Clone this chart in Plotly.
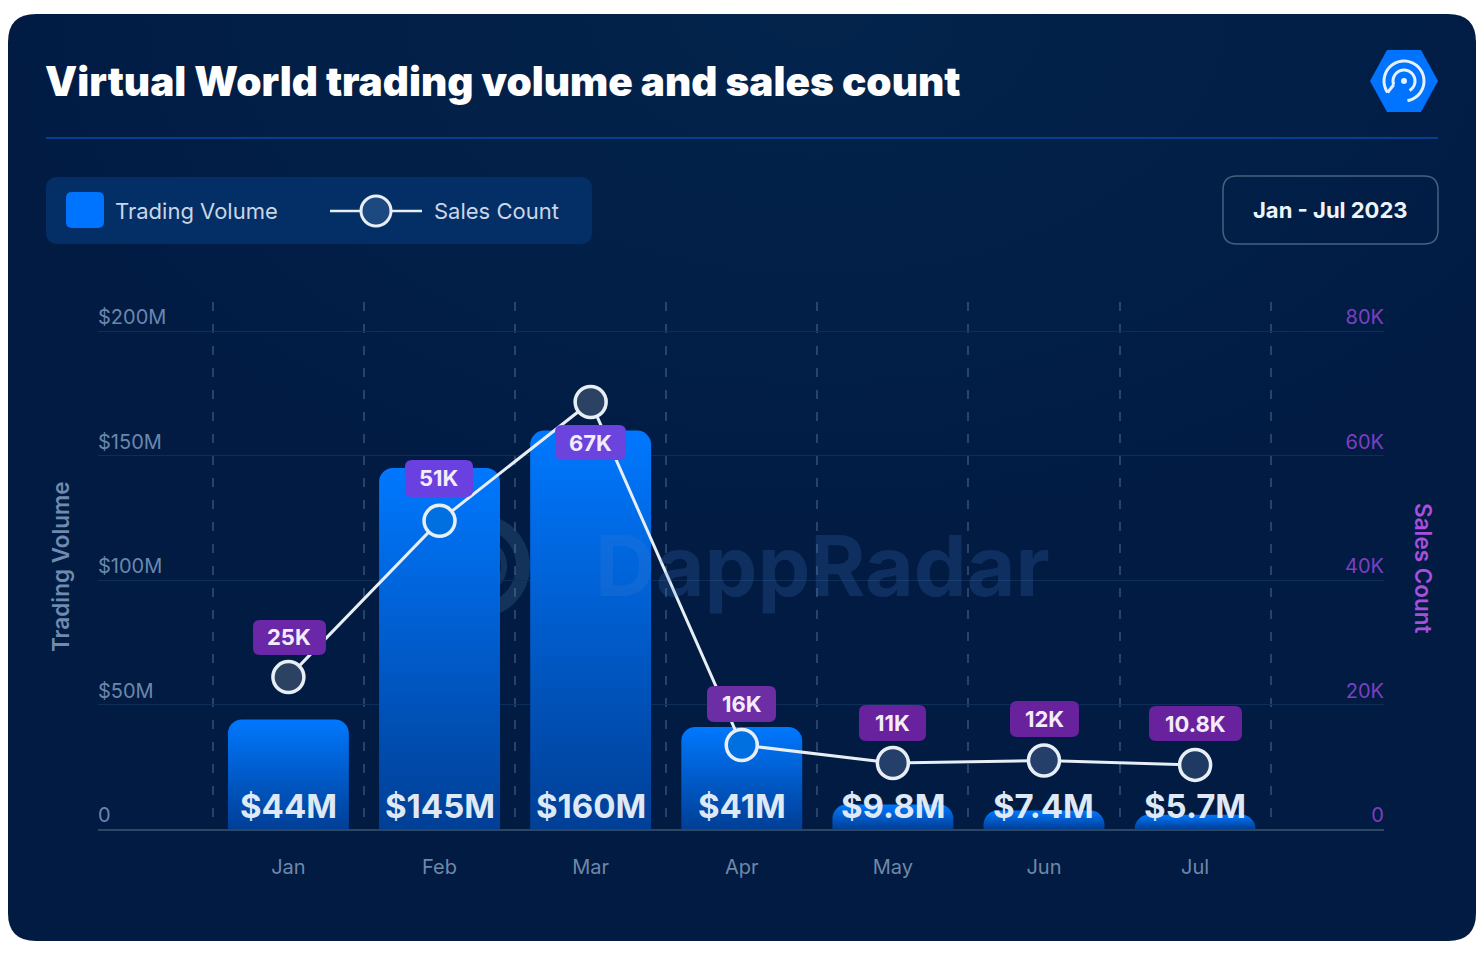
import numpy as np
import plotly.graph_objects as go

W, H = 1482, 956

# Chart data
months = ["Jan", "Feb", "Mar", "Apr", "May", "Jun", "Jul"]
trading_volume = [44, 145, 160, 41, 9.8, 7.4, 5.7]  # $M
volume_labels = ["$44M", "$145M", "$160M", "$41M", "$9.8M", "$7.4M", "$5.7M"]
# where the points sit against the right axis
sales_count = [24400, 49500, 68600, 13500, 10600, 11000, 10300]
sales_labels = ["25K", "51K", "67K", "16K", "11K", "12K", "10.8K"]

volume_ticks = [0, 50, 100, 150, 200]
volume_ticktext = ["0", "$50M", "$100M", "$150M", "$200M"]
sales_ticks = [0, 20000, 40000, 60000, 80000]
sales_ticktext = ["0", "20K", "40K", "60K", "80K"]


# pixel -> paper coords, margins are zero so this is 1:1
def fx(p):
    return round(p / W, 5)


def fy(p):
    return round(1 - p / H, 5)


def rounded(x0, y0, x1, y1, r):
    return (
        f"M{fx(x0 + r)},{fy(y0)} L{fx(x1 - r)},{fy(y0)} Q{fx(x1)},{fy(y0)} {fx(x1)},{fy(y0 + r)} "
        f"L{fx(x1)},{fy(y1 - r)} Q{fx(x1)},{fy(y1)} {fx(x1 - r)},{fy(y1)} "
        f"L{fx(x0 + r)},{fy(y1)} Q{fx(x0)},{fy(y1)} {fx(x0)},{fy(y1 - r)} "
        f"L{fx(x0)},{fy(y0 + r)} Q{fx(x0)},{fy(y0)} {fx(x0 + r)},{fy(y0)} Z"
    )


def arc(cx, cy, r, a0, a1):
    t = np.radians(np.linspace(a0, a1, 40))
    pts = [f"{fx(cx + r * np.cos(a))},{fy(cy + r * np.sin(a))}" for a in t]
    return "M" + " L".join(pts)


def box(x0, y0, x1, y1, r, fill, line=None, layer="below"):
    return dict(
        type="path", xref="paper", yref="paper", path=rounded(x0, y0, x1, y1, r),
        fillcolor=fill, line=dict(width=1.5 if line else 0, color=line or "rgba(0,0,0,0)"),
        layer=layer,
    )


def stroke(path, color, width, layer="below"):
    return dict(type="path", xref="paper", yref="paper", path=path,
                line=dict(color=color, width=width), layer=layer)


def text(x, y, s, size, color, anchor="left", weight=400, family="Inter", angle=0):
    # annotations pad their text by about 3px
    return dict(
        xref="paper", yref="paper", x=fx(x - 3 if anchor == "left" else x), y=fy(y), text=s, showarrow=False,
        xanchor=anchor, yanchor="middle", textangle=angle,
        font=dict(family=family, size=size, color=color, weight=weight),
    )


CARD = "#011c44"
LOGO_LINE = "#e6f0ff"

shapes = [
    box(8, 14, 1476, 941, 28, CARD),
    stroke(f"M{fx(46)},{fy(138)} L{fx(1438)},{fy(138)}", "#053f8d", 2),
    # legend panel
    box(46, 177, 592, 244, 12, "#032f66"),
    box(66, 192, 104, 228, 6, "#0073ff"),
    stroke(f"M{fx(330)},{fy(211)} L{fx(422)},{fy(211)}", "#e8eef5", 2.5),
    # date box
    box(1223, 176, 1438, 244, 14, "rgba(0,0,0,0)", line="#47617f"),
    # logo
    dict(type="path", xref="paper", yref="paper", fillcolor="#0073ff", line=dict(width=0), layer="below",
         path=f"M{fx(1370)},{fy(81)} L{fx(1387)},{fy(50)} L{fx(1421)},{fy(50)} L{fx(1438)},{fy(81)} "
              f"L{fx(1421)},{fy(112)} L{fx(1387)},{fy(112)} Z"),
    stroke(arc(1404, 81, 20, 80, -215), LOGO_LINE, 3),
    stroke(arc(1404, 81, 11, 60, -200), LOGO_LINE, 3),
    stroke(f"M{fx(1387.6)},{fy(92.5)} L{fx(1393.7)},{fy(84.8)}", LOGO_LINE, 3),
    dict(type="circle", xref="paper", yref="paper", x0=fx(1401), x1=fx(1407), y0=fy(84), y1=fy(78),
         fillcolor=LOGO_LINE, line=dict(width=0), layer="below"),
    # watermark rings
    stroke(arc(478, 566, 45, -75, 75), "#14335b", 14),
    stroke(arc(478, 566, 26, -75, 75), "#14335b", 6),
    # legend marker, same look as the chart's points
    dict(type="circle", xref="paper", yref="paper", x0=fx(361), x1=fx(391), y0=fy(226), y1=fy(196),
         fillcolor="#1c4a80", line=dict(color="#e8eef5", width=3), layer="below"),
]

annotations = [
    text(46, 81, "Virtual World trading volume and sales count", 40.5, "#ffffff", weight=900),
    text(116, 211, "Trading Volume", 22, "#c9d6e6"),
    text(435, 211, "Sales Count", 22, "#c9d6e6"),
    text(1330, 210, "Jan - Jul 2023", 22, "#eef3f8", anchor="center", weight=700),
    text(822, 566, "DappRadar", 84, "rgba(70,130,210,0.2)", anchor="center", weight=700),
    text(60, 567, "Trading Volume", 22.5, "#6f8bb0", anchor="center", weight=600, angle=-90),
    text(1423, 568, "Sales Count", 22.5, "#a84fdc", anchor="center", weight=600, angle=90),
]

# value badges above the line
badges = [
    (253, 620, 326, 655, "#6a28a8"),
    (405, 460, 473, 497, "#6a40e0"),
    (555, 425, 626, 460, "#6a44dc"),
    (707, 686, 776, 722, "#6d2ea5"),
    (859, 705, 926, 741, "#69229e"),
    (1010, 701, 1079, 737, "#69229e"),
    (1149, 706, 1242, 741, "#69229e"),
]
for (x0, y0, x1, y1, c), s in zip(badges, sales_labels):
    shapes.append(box(x0, y0, x1, y1, 7, c, layer="above"))
    annotations.append(text((x0 + x1) / 2, (y0 + y1) / 2, s, 22, "#f3ecfb", anchor="center", weight=700))

for m, s in zip(months, volume_labels):
    annotations.append(dict(
        x=m, y=0, xref="x", yref="y", yshift=23, text=s, showarrow=False,
        font=dict(family="Inter", size=33, color="#dfe8f5", weight=700),
    ))

fig = go.Figure()
fig.add_bar(x=months, y=trading_volume, name="Trading Volume", marker=dict(color="#0073ff", line_width=0))
fig.add_scatter(
    x=months, y=sales_count, yaxis="y2", name="Sales Count", mode="lines+markers",
    line=dict(color="#e8eef5", width=3),
    marker=dict(size=31, color=["#2b4262", "#0070e0", "#2b4262", "#0070e0", "#24406a", "#24406a", "#1e3a63"],
                line=dict(color="#e8eef5", width=3.5)),
)

fig.update_layout(
    width=W, height=H, autosize=False, showlegend=False,
    margin=dict(l=0, r=0, t=0, b=0),
    paper_bgcolor="#ffffff", plot_bgcolor="rgba(0,0,0,0)",
    bargap=0.2, barcornerradius=14,
    shapes=shapes, annotations=annotations,
    font=dict(family="Inter"),
    xaxis=dict(
        domain=[fx(98), fx(1384)], type="category", range=[-1.26, 7.25],
        tickson="boundaries", showgrid=True, griddash="9px,13px", gridcolor="rgba(150,180,210,0.26)", gridwidth=1.5,
        ticks="", ticklabelstandoff=19,
        tickfont=dict(size=20, color="#7088a8"),
        showline=True, linecolor="#2c4666", linewidth=2, zeroline=False,
    ),
    yaxis=dict(
        domain=[fy(829), fy(302)], range=[0, 211.65],
        tickvals=volume_ticks, ticktext=volume_ticktext, ticklabelposition="inside top", ticklabelstandoff=-3,
        tickfont=dict(size=20, color="#6b87ad"),
        gridcolor="#0c2e58", gridwidth=1, zeroline=False,
    ),
    yaxis2=dict(
        overlaying="y", side="right", range=[0, 84660],
        tickvals=sales_ticks, ticktext=sales_ticktext, ticklabelposition="inside top", ticklabelstandoff=-3,
        tickfont=dict(size=20, color="#7d3fc0"),
        showgrid=False, zeroline=False,
    ),
)

# plotly bars have no gradient fill, so add them to the svg once drawn
post = """
document.body.style.margin = '0';
var gd = document.getElementById('{plot_id}');
var NS = 'http://www.w3.org/2000/svg';
var defs = gd.querySelector('.main-svg defs');
function addGradient(tag, id, attrs, stops) {
    var g = document.createElementNS(NS, tag);
    g.setAttribute('id', id);
    Object.keys(attrs).forEach(function (k) { g.setAttribute(k, attrs[k]); });
    stops.forEach(function (s) {
        var st = document.createElementNS(NS, 'stop');
        st.setAttribute('offset', s[0]); st.setAttribute('stop-color', s[1]);
        g.appendChild(st);
    });
    defs.appendChild(g);
}
addGradient('linearGradient', 'barFade', {x1: '0', y1: '0', x2: '0', y2: '1'},
            [['0%', '#0078ff'], ['100%', '#003f96']]);
addGradient('radialGradient', 'cardGlow', {cx: '0.55', cy: '0', r: '0.6'},
            [['0%', '#03244c'], ['100%', '#011b43']]);
gd.querySelectorAll('.barlayer .point path').forEach(function (p) {
    p.style.fill = 'url(#barFade)';
});
gd.querySelector('.layer-below .shapelayer path').style.fill = 'url(#cardGlow)';
"""

fig.write_html("out.html", post_script=post, config={"displayModeBar": False})
